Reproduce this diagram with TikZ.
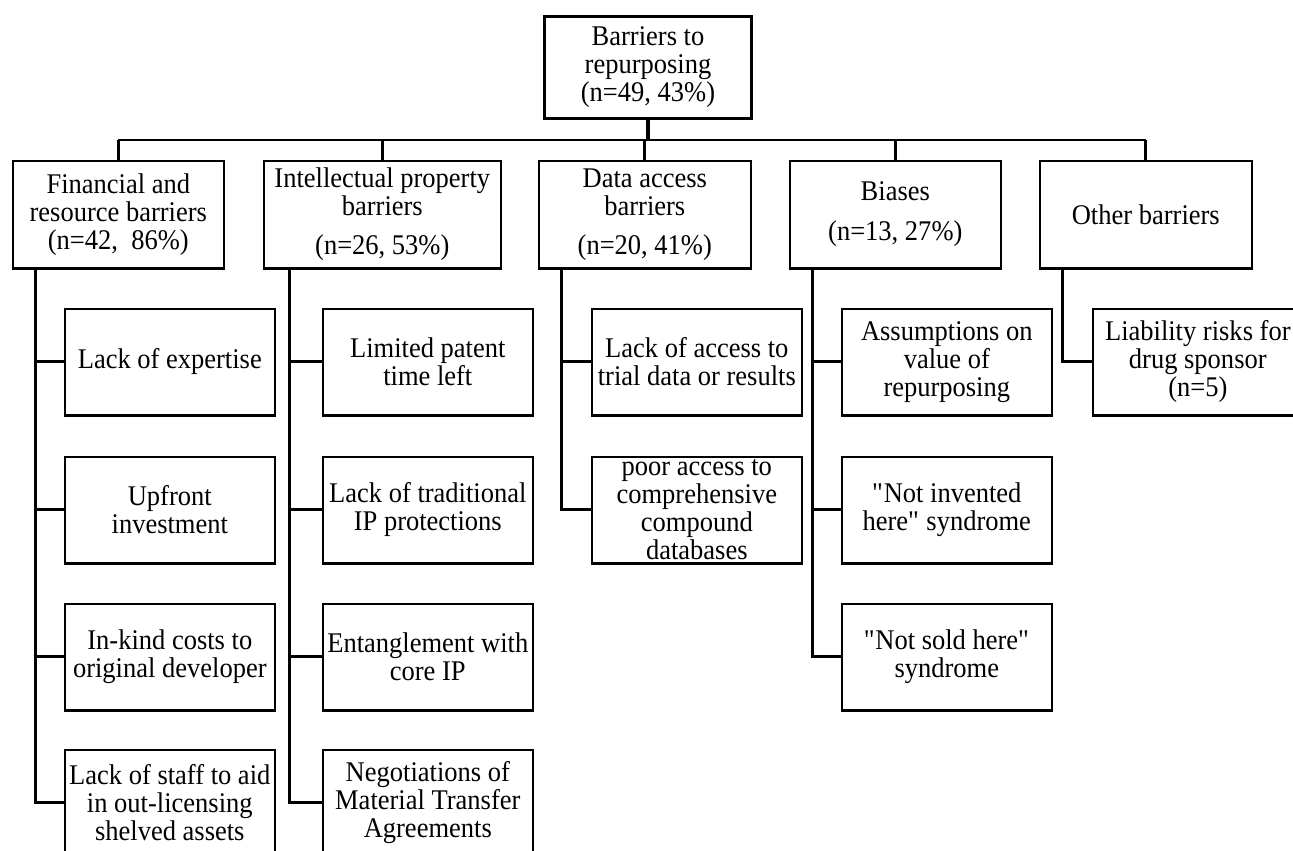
\documentclass[tikz,border=0pt]{standalone}
\usepackage{fontspec}
\setmainfont{Liberation Serif}[FakeStretch=0.93]
\begin{document}
\begin{tikzpicture}[x=1pt,y=-1pt,
  box/.style={draw, line width=1.6pt, inner sep=0pt, align=center, anchor=north west,
    font=\fontsize{28.5}{28}\selectfont},
  topbox/.style={box, line width=3pt, minimum width=207pt, minimum height=102pt},
  catbox/.style={box, minimum width=#1, minimum height=107pt},
  subbox/.style={box, minimum width=210pt, minimum height=106pt},
  conn/.style={line width=3pt},
  busline/.style={line width=2pt},
  shade/.style={line width=3pt}]
\useasboundingbox (0,0) rectangle (1293,851);
\clip (0,0) rectangle (1293,851);

% top
\node[topbox] (top) at (543,15) {Barriers to\\repurposing\\(n=49, 43\%)};

% categories
\node[catbox=211pt] (fin) at (12,160) {Financial and\\resource barriers\\(n=42,\ \ 86\%)};
\node[catbox=237pt] (ip) at (263,160) {Intellectual property\\barriers\\[11pt](n=26, 53\%)};
\node[catbox=212pt] (dat) at (538,160) {Data access\\barriers\\[11pt](n=20, 41\%)};
\node[catbox=211pt] (bia) at (789,160) {Biases\\[12pt](n=13, 27\%)};
\node[catbox=212pt] (oth) at (1039,160) {Other barriers};

% sub-items
\node[subbox] (f1) at (64,308) {Lack of expertise};
\node[subbox] (f2) at (64,456) {Upfront\\investment};
\node[subbox] (f3) at (64,603) {In-kind costs to\\original developer};
\node[subbox] (f4) at (64,749) {Lack of staff to aid\\in out-licensing\\shelved assets};

\node[subbox] (i1) at (322,308) {Limited patent\\time left};
\node[subbox] (i2) at (322,456) {Lack of traditional\\IP protections};
\node[subbox] (i3) at (322,603) {Entanglement with\\core IP};
\node[subbox] (i4) at (322,749) {Negotiations of\\Material Transfer\\Agreements};

\node[subbox] (d1) at (591,308) {Lack of access to\\trial data or results};
\node[subbox] (d2) at (591,456) {poor access to\\comprehensive\\compound\\databases};

\node[subbox] (b1) at (841,308) {Assumptions on\\value of\\repurposing};
\node[subbox] (b2) at (841,456) {\textquotedbl Not invented\\here\textquotedbl{} syndrome};
\node[subbox] (b3) at (841,603) {\textquotedbl Not sold here\textquotedbl\\syndrome};

\node[subbox] (o1) at (1092,308) {Liability risks for\\drug sponsor\\(n=5)};

% heavier bottom edges
\foreach \n in {fin,ip,dat,bia,oth,f1,f2,f3,i1,i2,i3,d1,d2,b1,b2,b3,o1}
  \draw[shade] (\n.south west) -- (\n.south east);

% bus
\coordinate (busy) at (0,140);
\draw[line width=4pt] (top.south) -- (top.south |- busy);
\draw[busline] (fin.north |- busy) -- (oth.north |- busy);
\foreach \n in {fin,ip,dat,bia,oth}
  \draw[conn] (\n.north) -- (\n.north |- busy);

% spines
\coordinate (fs) at ([xshift=23pt]fin.south west);
\coordinate (is) at ([xshift=26pt]ip.south west);
\coordinate (ds) at ([xshift=23pt]dat.south west);
\coordinate (bs) at ([xshift=23pt]bia.south west);
\coordinate (os) at ([xshift=23pt]oth.south west);

\draw[conn] (fs) |- (f4.west);
\foreach \n in {f1,f2,f3} \draw[conn] (\n.west) -- (\n.west -| fs);
\draw[conn] (is) |- (i4.west);
\foreach \n in {i1,i2,i3} \draw[conn] (\n.west) -- (\n.west -| is);
\draw[conn] (ds) |- (d2.west);
\draw[conn] (d1.west) -- (d1.west -| ds);
\draw[conn] (bs) |- (b3.west);
\foreach \n in {b1,b2} \draw[conn] (\n.west) -- (\n.west -| bs);
\draw[conn] (os) |- (o1.west);
\end{tikzpicture}
\end{document}
